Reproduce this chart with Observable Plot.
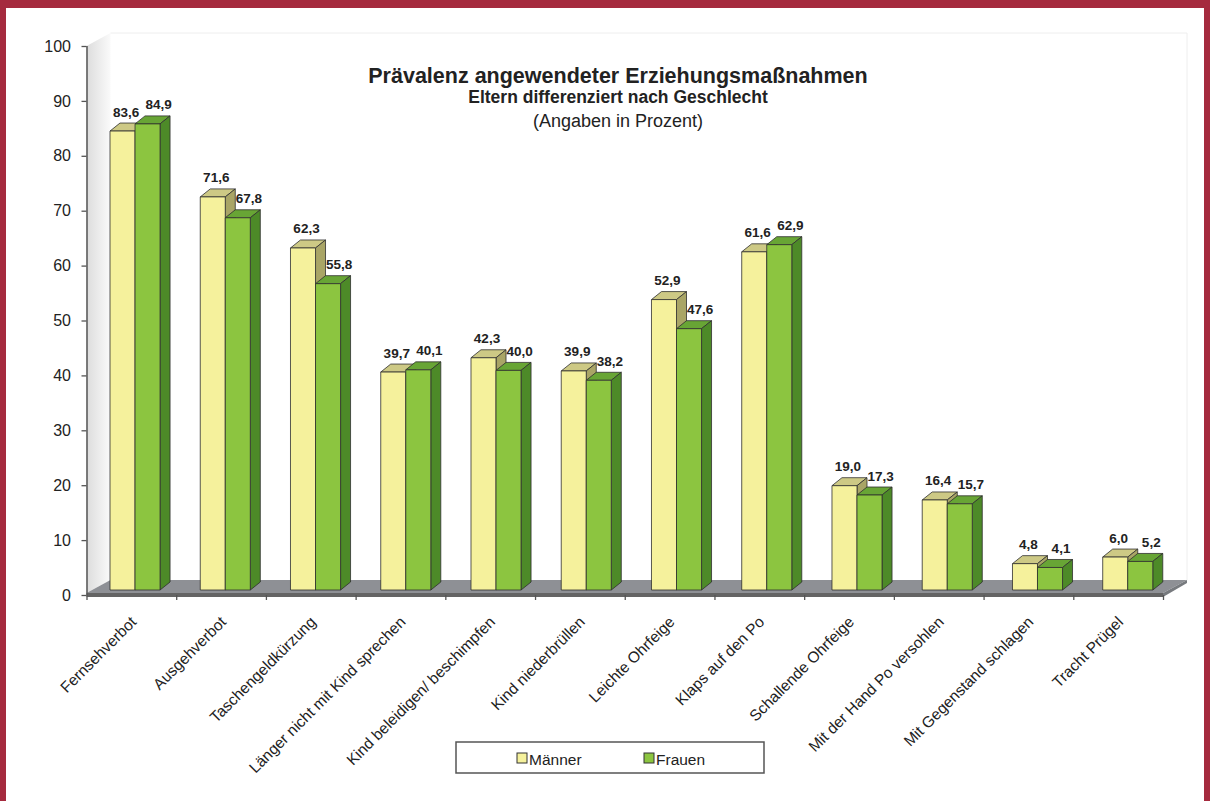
<!DOCTYPE html>
<html><head><meta charset="utf-8">
<script src="https://cdn.jsdelivr.net/npm/d3@7"></script>
<script src="https://cdn.jsdelivr.net/npm/@observablehq/plot@0.6"></script>
<style>
html,body{margin:0;padding:0;background:#fff;}
#wrap{position:relative;width:1210px;height:801px;overflow:hidden;font-family:"Liberation Sans",Arial,sans-serif;}
#chart{position:absolute;left:0;top:0;}
.bd{position:absolute;background:#a52a3e;}
#overlay{position:absolute;left:0;top:0;pointer-events:none;}
</style></head><body>
<div id="wrap"><div id="chart"></div>
<svg id="overlay" width="1210" height="801"></svg>
<div class="bd" style="left:0;top:0;width:1210px;height:8px"></div>
<div class="bd" style="left:0;top:0;width:6px;height:801px"></div>
<div class="bd" style="left:1204px;top:0;width:6px;height:801px"></div>
</div>
<script>
const categories = ["Fernsehverbot","Ausgehverbot","Taschengeldkürzung","Länger nicht mit Kind sprechen","Kind beleidigen/ beschimpfen","Kind niederbrüllen","Leichte Ohrfeige","Klaps auf den Po","Schallende Ohrfeige","Mit der Hand Po versohlen","Mit Gegenstand schlagen","Tracht Prügel"];
const maenner = [83.6,71.6,62.3,39.7,42.3,39.9,52.9,61.6,19.0,16.4,4.8,6.0];
const frauen  = [84.9,67.8,55.8,40.1,40.0,38.2,47.6,62.9,17.3,15.7,4.1,5.2];
const yTicks = [0,10,20,30,40,50,60,70,80,90,100];
const seriesNames = ["Männer","Frauen"];

const colors = {
  m: {front:"#f5f19c", top:"#cdc985", side:"#a9a566"},
  f: {front:"#8cc540", top:"#68a535", side:"#4d8a28"}
};
const BAR_START = 0.262, BAR_STEP = 1.006, BAR_W = 0.279;
const LABEL_DX = [3, 10.5];

const rows = [];
categories.forEach((c,i)=>{
  rows.push({cat:c, i, s:0, key:"m", v:maenner[i]});
  rows.push({cat:c, i, s:1, key:"f", v:frauen[i]});
});
const barLeft = d => d.i*BAR_STEP + BAR_START + d.s*BAR_W;
const fmt = v => v.toFixed(1).replace(".", ",");

function bars3d(index, scales) {
  const x = scales.x, y = scales.y;
  const g = d3.create("svg:g");
  const x0 = x(0), x1 = x(12), y0 = y(0), yTop = y(100);
  const FD = 24, FH = -13; // floor depth
  const defs = g.append("defs");
  const lg = defs.append("linearGradient").attr("id","wallg").attr("x1","0").attr("x2","1").attr("y1","0").attr("y2","0");
  lg.append("stop").attr("offset","0").attr("stop-color","#dcdcdc");
  lg.append("stop").attr("offset","1").attr("stop-color","#fafafa");
  g.append("path").attr("d", d3.line()([[x0,yTop],[x0+FD,yTop+FH],[x0+FD,y0-2+FH],[x0,y0-2]]) + "Z")
    .attr("fill","url(#wallg)").attr("stroke","none");
  g.append("path").attr("d", d3.line()([[x0+FD,yTop+FH],[x1+FD,yTop+FH],[x1+FD,y0-2+FH]]))
    .attr("fill","none").attr("stroke","#eeeeee");
  const fy = y0 - 2;
  g.append("path").attr("d", d3.line()([[x0,fy],[x1,fy],[x1+FD,fy+FH],[x0+FD,fy+FH]])+"Z")
    .attr("fill","#8e9095");
  g.append("path").attr("d", d3.line()([[x0,fy],[x1,fy],[x1,fy+4],[x0,fy+4]])+"Z")
    .attr("fill","#646464");
  g.append("path").attr("d", d3.line()([[x1,fy],[x1+FD,fy+FH],[x1+FD,fy+FH+3],[x1,fy+4]])+"Z")
    .attr("fill","#777a7e");
  const DX = 10, DY = -8, LIFT = 5;
  for (const d of rows) {
    const l = x(barLeft(d)), r = x(barLeft(d) + BAR_W);
    const t = y(d.v) - LIFT, b = y(0) - LIFT;
    const c = colors[d.key];
    const bg = g.append("g").attr("stroke","#2e2e2e").attr("stroke-width",0.8).attr("stroke-linejoin","round");
    bg.append("path").attr("d", d3.line()([[l,t],[r,t],[r+DX,t+DY],[l+DX,t+DY]])+"Z").attr("fill",c.top);
    bg.append("path").attr("d", d3.line()([[r,t],[r+DX,t+DY],[r+DX,b+DY],[r,b]])+"Z").attr("fill",c.side);
    bg.append("rect").attr("x",l).attr("y",t).attr("width",r-l).attr("height",b-t).attr("fill",c.front);
  }
  return g.node();
}

const plot = Plot.plot({
  width: 1210, height: 801,
  marginLeft: 86.5, marginRight: 47, marginTop: 46, marginBottom: 206,
  style: {background: "transparent", fontFamily: "'Liberation Sans', Arial, sans-serif", overflow: "visible"},
  x: {domain: [0, 12], label: null},
  y: {domain: [0, 100], label: null},
  marks: [
    bars3d,
    Plot.ruleX([0], {y1: 0, y2: 100, stroke: "#555", strokeWidth: 1.5}),
    Plot.axisY({ticks: yTicks, tickSize: 5, tickPadding: 11, fontSize: 16, color: "#222", stroke: "#555", strokeWidth: 1.3, label: null}),
    Plot.axisX({ticks: d3.range(13), tickSize: 5, tickFormat: () => "", stroke: "#555", strokeWidth: 1.3, label: null}),
    Plot.text(rows.filter(d => d.s === 0), {x: d => barLeft(d) + BAR_W/2, y: "v", text: d => fmt(d.v), dx: LABEL_DX[0], dy: -20,
      textAnchor: "middle", lineAnchor: "bottom", fontSize: 13.5, fontWeight: "bold", fill: "#222"}),
    Plot.text(rows.filter(d => d.s === 1), {x: d => barLeft(d) + BAR_W/2, y: "v", text: d => fmt(d.v), dx: LABEL_DX[1], dy: -20,
      textAnchor: "middle", lineAnchor: "bottom", fontSize: 13.5, fontWeight: "bold", fill: "#222"}),
    Plot.text(categories, {x: (d,i) => i + 0.5, y: () => 0, text: d => d, rotate: -45, textAnchor: "end",
      dx: 2, dy: 24, fontSize: 15.5, fill: "#222"})
  ]
});
document.getElementById("chart").appendChild(plot);

const ov = d3.select("#overlay").style("font-family","'Liberation Sans', Arial, sans-serif");
ov.append("text").attr("x",618).attr("y",83).attr("text-anchor","middle").attr("font-size",21.5).attr("font-weight","bold").attr("fill","#222").text("Prävalenz angewendeter Erziehungsmaßnahmen");
ov.append("text").attr("x",618).attr("y",103).attr("text-anchor","middle").attr("font-size",17.5).attr("font-weight","bold").attr("fill","#222").text("Eltern differenziert nach Geschlecht");
ov.append("text").attr("x",618).attr("y",127).attr("text-anchor","middle").attr("font-size",18).attr("fill","#222").text("(Angaben in Prozent)");
ov.append("rect").attr("x",456).attr("y",742).attr("width",308).attr("height",31).attr("fill","#fff").attr("stroke","#555").attr("stroke-width",1.5);
const legX = [517, 644];
seriesNames.forEach((n,k)=>{
  const c = k===0 ? colors.m.front : colors.f.front;
  ov.append("rect").attr("x",legX[k]).attr("y",753).attr("width",10).attr("height",10).attr("fill",c).attr("stroke","#333").attr("stroke-width",1);
  ov.append("text").attr("x",legX[k]+12).attr("y",765).attr("font-size",15.5).attr("fill","#222").text(n);
});
</script>
</body></html>
